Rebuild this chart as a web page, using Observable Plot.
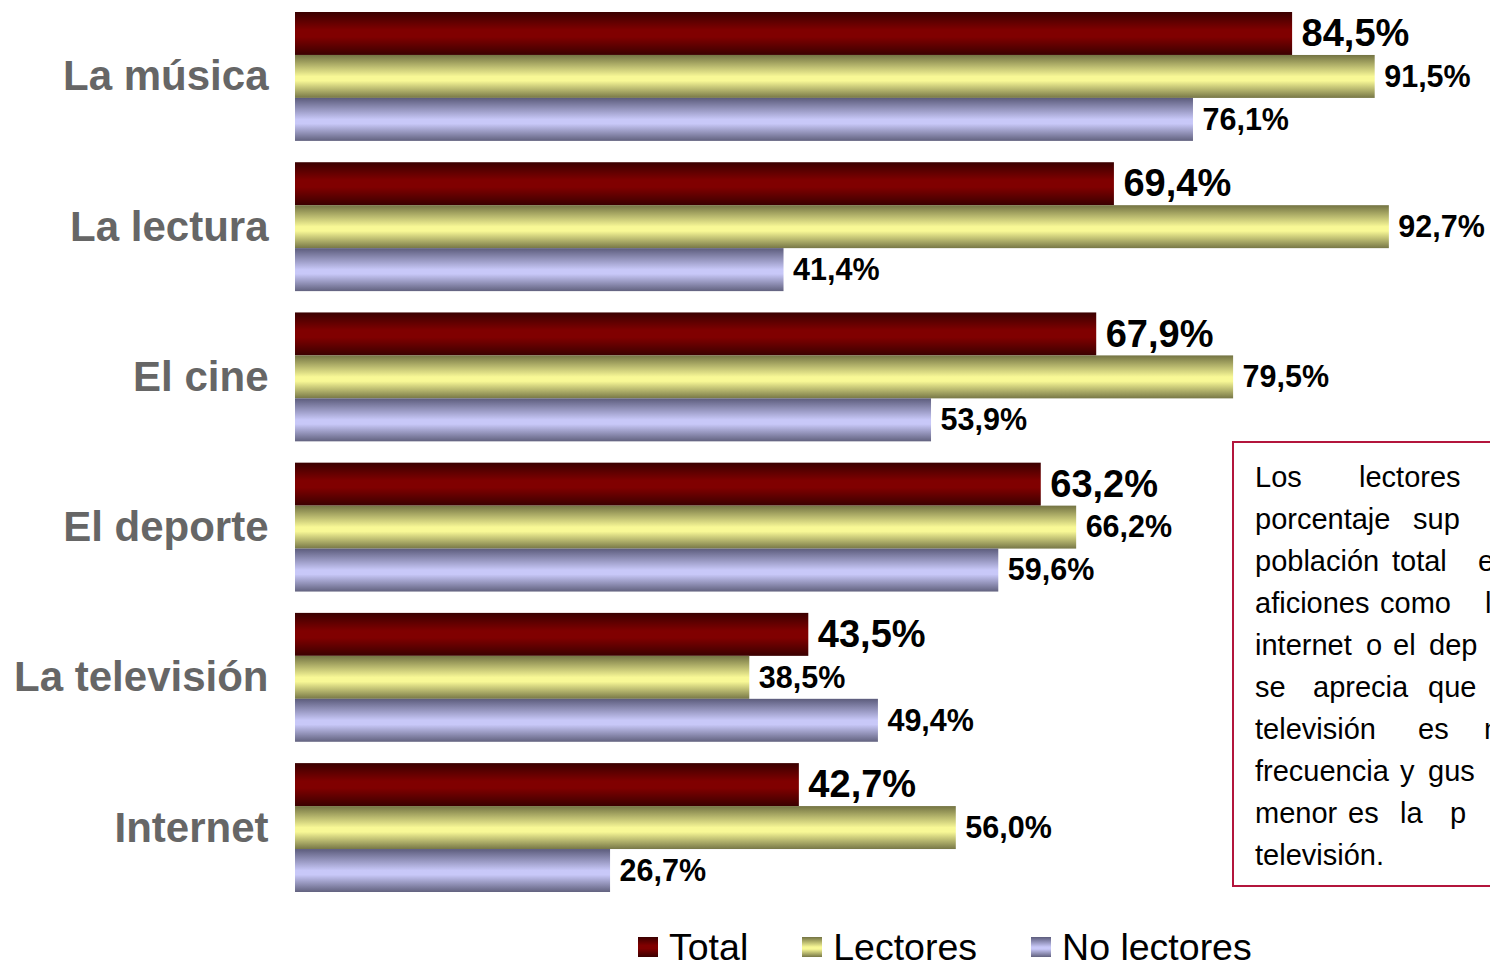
<!DOCTYPE html>
<html>
<head>
<meta charset="utf-8">
<script src="https://cdn.jsdelivr.net/npm/d3@7"></script>
<script src="https://cdn.jsdelivr.net/npm/@observablehq/plot@0.6"></script>
<style>
  html, body { margin: 0; padding: 0; background: #fff; overflow: hidden; }
  body { width: 1490px; height: 968px; position: relative; font-family: "Liberation Sans", Arial, sans-serif; }
  #chart svg { display: block; }
  #legend { position: absolute; left: 638px; top: 929px; display: flex; align-items: center; font-size: 37.5px; line-height: 36px; color: #000; white-space: nowrap; }
  #legend .item { display: flex; align-items: center; }
  #legend .item + .item { margin-left: 54px; }
  #legend svg { display: block; margin-right: 11px; }
  #note { position: absolute; left: 1232px; top: 441px; width: 400px; height: 446px; border: 2px solid #b3153c; box-sizing: border-box; }
  #note .line { position: absolute; left: 0; height: 29px; font-size: 29px; line-height: 29px; color: #000; white-space: nowrap; }
  #note .line span { position: absolute; top: 0; }
</style>
</head>
<body>
<svg width="0" height="0" style="position:absolute">
  <defs>
    <linearGradient id="gTotal" x1="0" y1="0" x2="0" y2="1">
      <stop offset="0" stop-color="#3a0000"/>
      <stop offset="0.42" stop-color="#800000"/>
      <stop offset="0.58" stop-color="#800000"/>
      <stop offset="1" stop-color="#3a0000"/>
    </linearGradient>
    <linearGradient id="gLect" x1="0" y1="0" x2="0" y2="1">
      <stop offset="0" stop-color="#737343"/>
      <stop offset="0.5" stop-color="#f8f896"/>
      <stop offset="0.6" stop-color="#f8f896"/>
      <stop offset="1" stop-color="#777747"/>
    </linearGradient>
    <linearGradient id="gNo" x1="0" y1="0" x2="0" y2="1">
      <stop offset="0" stop-color="#5c5c7c"/>
      <stop offset="0.5" stop-color="#c8c8f8"/>
      <stop offset="0.6" stop-color="#c8c8f8"/>
      <stop offset="1" stop-color="#62627f"/>
    </linearGradient>
  </defs>
</svg>
<div id="chart"></div>
<div id="legend"></div>
<div id="note"></div>
<script>
// ---- data ----
const categories = ["La música", "La lectura", "El cine", "El deporte", "La televisión", "Internet"];
const series = ["Total", "Lectores", "No lectores"];
const totalValues = [84.5, 69.4, 67.9, 63.2, 43.5, 42.7];
const lectoresValues = [91.5, 92.7, 79.5, 66.2, 38.5, 56.0];
const noLectoresValues = [76.1, 41.4, 53.9, 59.6, 49.4, 26.7];
const seriesFills = ["url(#gTotal)", "url(#gLect)", "url(#gNo)"];

const noteLines = [
  ["Los", "lectores"],
  ["porcentaje", "sup"],
  ["población", "total", "e"],
  ["aficiones", "como", "l"],
  ["internet", "o", "el", "dep"],
  ["se", "aprecia", "que"],
  ["televisión", "es", "m"],
  ["frecuencia", "y", "gus"],
  ["menor", "es", "la", "p"],
  ["televisión."]
];
// word start offsets (px) inside the note box, per line
const noteWordOffsets = [
  [21, 125],
  [21, 179],
  [21, 158, 244],
  [21, 146, 251],
  [21, 132, 159, 195],
  [21, 79, 194],
  [21, 184, 250],
  [21, 166, 194],
  [21, 114, 166, 216],
  [21]
];

// ---- table ----
const valuesBySeries = [totalValues, lectoresValues, noLectoresValues];
const rows = [];
categories.forEach((c, i) => {
  series.forEach((s, j) => rows.push({category: c, series: s, value: valuesBySeries[j][i]}));
});
const fmt = v => v.toFixed(1).replace(".", ",") + "%";

const plot = Plot.plot({
  width: 1490,
  height: 905,
  marginTop: 12,
  marginBottom: 13,
  marginLeft: 295,
  marginRight: 15,
  style: {fontFamily: "'Liberation Sans', Arial, sans-serif", overflow: "visible", background: "transparent"},
  x: {domain: [0, 100], axis: null},
  y: {domain: series, axis: null, padding: 0, round: false},
  fy: {domain: categories, axis: null, paddingInner: 0.142, paddingOuter: 0, round: false},
  color: {domain: series, range: seriesFills},
  marks: [
    Plot.barX(rows, {x: "value", y: "series", fy: "category", fill: "series"}),
    Plot.text(rows.filter(d => d.series === "Total"), {
      x: "value", y: "series", fy: "category", text: d => fmt(d.value),
      dx: 9, textAnchor: "start", fontSize: 38, fontWeight: "bold", fill: "#000"
    }),
    Plot.text(rows.filter(d => d.series !== "Total"), {
      x: "value", y: "series", fy: "category", text: d => fmt(d.value),
      dx: 9, textAnchor: "start", fontSize: 30.5, fontWeight: "bold", fill: "#000"
    }),
    Plot.text(categories, {
      fy: d => d, text: d => d, frameAnchor: "left", dx: -27, textAnchor: "end",
      fontSize: 42, fontWeight: "bold", fill: "#666666"
    })
  ]
});
document.getElementById("chart").appendChild(plot);

// ---- legend ----
const legend = document.getElementById("legend");
series.forEach((s, j) => {
  const item = document.createElement("div");
  item.className = "item";
  item.innerHTML = `<svg width="20" height="20"><rect width="20" height="20" fill="${seriesFills[j]}"/></svg><span>${s}</span>`;
  legend.appendChild(item);
});

// ---- note box ----
const note = document.getElementById("note");
noteLines.forEach((words, i) => {
  const line = document.createElement("div");
  line.className = "line";
  line.style.top = (487 + 42 * i - 24.5 - 443) + "px";
  words.forEach((w, k) => {
    const sp = document.createElement("span");
    sp.textContent = w;
    sp.style.left = noteWordOffsets[i][k] + "px";
    line.appendChild(sp);
  });
  note.appendChild(line);
});
</script>
</body>
</html>
